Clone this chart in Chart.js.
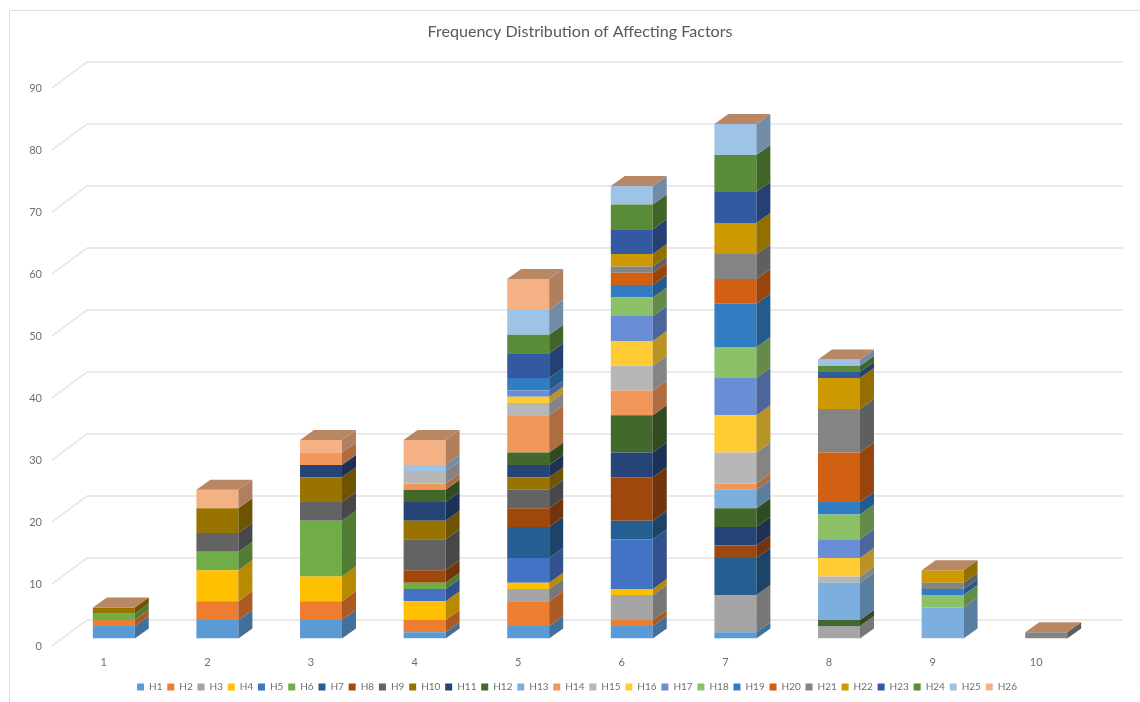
<!DOCTYPE html>
<html>
<head>
<meta charset="utf-8">
<title>Frequency Distribution of Affecting Factors</title>
<style>
html,body{margin:0;padding:0;background:#fff;}
canvas{display:block;}
</style>
<script src="https://cdn.jsdelivr.net/npm/chart.js@4/dist/chart.umd.min.js"></script>
</head>
<body>
<canvas id="chart" width="1140" height="702"></canvas>
<script>
const categories = ['1','2','3','4','5','6','7','8','9','10'];
const titleText = 'Frequency Distribution of Affecting Factors';

const H1  = [2,3,3,1,2,2,1,0,0,0];
const H2  = [1,3,3,2,4,1,0,0,0,0];
const H3  = [0,0,0,0,2,4,6,2,0,0];
const H4  = [0,5,4,3,1,1,0,0,0,0];
const H5  = [0,0,0,2,4,8,0,0,0,0];
const H6  = [1,3,9,1,0,0,0,0,0,0];
const H7  = [0,0,0,0,5,3,6,0,0,0];
const H8  = [0,0,0,2,3,7,2,0,0,0];
const H9  = [0,3,3,5,3,0,0,0,0,0];
const H10 = [1,4,4,3,2,0,0,0,0,0];
const H11 = [0,0,2,3,2,4,3,0,0,0];
const H12 = [0,0,0,2,2,6,3,1,0,0];
const H13 = [0,0,0,0,0,0,3,6,5,0];
const H14 = [0,0,2,1,6,4,1,0,0,0];
const H15 = [0,0,0,2,2,4,5,1,0,0];
const H16 = [0,0,0,0,1,4,6,3,0,0];
const H17 = [0,0,0,0,1,4,6,3,0,0];
const H18 = [0,0,0,0,0,3,5,4,2,0];
const H19 = [0,0,0,0,2,2,7,2,1,0];
const H20 = [0,0,0,0,0,2,4,8,0,0];
const H21 = [0,0,0,0,0,1,4,7,1,1];
const H22 = [0,0,0,0,0,2,5,5,2,0];
const H23 = [0,0,0,0,4,4,5,1,0,0];
const H24 = [0,0,0,0,3,4,6,1,0,0];
const H25 = [0,0,0,1,4,3,5,1,0,0];
const H26 = [0,3,2,4,5,0,0,0,0,0];

const seriesValues = [H1,H2,H3,H4,H5,H6,H7,H8,H9,H10,H11,H12,H13,H14,H15,H16,H17,H18,H19,H20,H21,H22,H23,H24,H25,H26];
const seriesColors = [
  '#5B9BD5','#ED7D31','#A5A5A5','#FFC000','#4472C4','#70AD47','#255E91','#9E480E','#636363','#997300',
  '#264478','#43682B','#7CAFDD','#F1975A','#B7B7B7','#FFCD33','#698ED6','#8CC168','#327DC2','#D26012',
  '#848484','#CC9A00','#335AA1','#5A8B39','#9DC3E6','#F4B183'
];

// Oblique projection of the column depth and of the back wall, in pixels.
const DEPTH_X = 14, DEPTH_Y = 10;
const WALL_RISE = 18.5, WALL_LEFT = 87, WALL_RIGHT = 1123;
const FLOOR_LEFT = 52, FLOOR_DROP = 7.5;
const GRID_COLOR = '#e3e3e3';

function shade(hex, factor) {
  const n = parseInt(hex.slice(1), 16);
  const c = [n >> 16, (n >> 8) & 255, n & 255].map(v => Math.round(v * factor));
  return `rgb(${c[0]},${c[1]},${c[2]})`;
}

function poly(ctx, pts, fill) {
  ctx.beginPath();
  pts.forEach((p, i) => i ? ctx.lineTo(p[0], p[1]) : ctx.moveTo(p[0], p[1]));
  ctx.closePath();
  ctx.fillStyle = fill;
  ctx.fill();
}

// Outer frame, back-wall gridlines and their run along the side wall.
const wallPlugin = {
  id: 'wall',
  afterLayout(chart) {
    // Nudge the legend row slightly left of the title's centre line.
    chart.legend.left -= 3;
    chart.legend.right -= 3;
  },
  beforeDatasetsDraw(chart) {
    const { ctx, scales: { y } } = chart;
    ctx.save();
    ctx.strokeStyle = '#dddddd';
    ctx.lineWidth = 1;
    ctx.beginPath();
    ctx.moveTo(9.5, 702);
    ctx.lineTo(9.5, 10.5);
    ctx.lineTo(1140, 10.5);
    ctx.stroke();

    ctx.strokeStyle = GRID_COLOR;
    ctx.lineWidth = 1.3;
    y.ticks.forEach(t => {
      const py = y.getPixelForValue(t.value);
      ctx.beginPath();
      ctx.moveTo(FLOOR_LEFT, py + FLOOR_DROP);
      ctx.lineTo(WALL_LEFT, py - WALL_RISE);
      ctx.lineTo(WALL_RIGHT, py - WALL_RISE);
      ctx.stroke();
    });
    ctx.restore();
  }
};

// Side faces of every stacked segment, plus the cap on each column.
const depthPlugin = {
  id: 'depth',
  afterDatasetsDraw(chart) {
    const { ctx } = chart;
    ctx.save();
    const count = chart.data.datasets.length;
    chart.data.datasets.forEach((ds, di) => {
      chart.getDatasetMeta(di).data.forEach((bar, i) => {
        if (!ds.data[i]) return;
        const { x, y, base, width } = bar.getProps(['x', 'y', 'base', 'width'], true);
        const r = x + width / 2;
        poly(ctx, [[r, y], [r + DEPTH_X, y - DEPTH_Y], [r + DEPTH_X, base - DEPTH_Y], [r, base]],
          shade(seriesColors[di], 0.72));
      });
    });
    // The last series has zero-height segments sitting on top of the stack where it is empty.
    chart.getDatasetMeta(count - 1).data.forEach(bar => {
      const { x, y, width } = bar.getProps(['x', 'y', 'width'], true);
      const l = x - width / 2, r = x + width / 2;
      poly(ctx, [[l, y], [r, y], [r + DEPTH_X, y - DEPTH_Y], [l + DEPTH_X, y - DEPTH_Y]],
        shade(seriesColors[count - 1], 0.76));
    });
    ctx.restore();
  }
};

const FONT = 'Lato, "Open Sans", sans-serif';

new Chart(document.getElementById('chart'), {
  type: 'bar',
  data: {
    labels: categories,
    datasets: seriesValues.map((values, i) => ({
      label: 'H' + (i + 1),
      data: values,
      backgroundColor: seriesColors[i],
      borderWidth: 0,
      categoryPercentage: 1,
      barPercentage: 0.405,
      stack: 'factors'
    }))
  },
  plugins: [wallPlugin, depthPlugin],
  options: {
    responsive: false,
    animation: false,
    events: [],
    layout: { padding: { left: 20, right: 0, top: 0, bottom: 0 } },
    plugins: {
      tooltip: { enabled: false },
      title: {
        display: true,
        text: titleText,
        color: '#595959',
        font: { family: FONT, size: 16.1, weight: 'normal', lineHeight: 1.2 },
        padding: { top: 22, bottom: 39.2 }
      },
      legend: {
        position: 'bottom',
        labels: {
          boxWidth: 7,
          boxHeight: 7,
          padding: 4.8,
          color: '#6e6e6e',
          font: { family: FONT, size: 10 }
        }
      }
    },
    scales: {
      x: {
        stacked: true,
        grid: { display: false, drawTicks: false },
        border: { display: false },
        ticks: { color: '#6e6e6e', font: { family: FONT, size: 11 }, padding: 17, labelOffset: -10, maxRotation: 0 },
        afterFit(scale) { scale.height = 38.7; }
      },
      y: {
        stacked: true,
        min: 0,
        max: 90,
        grid: { display: false, drawTicks: false },
        border: { display: false },
        ticks: { stepSize: 10, color: '#6e6e6e', font: { family: FONT, size: 11 }, padding: 20, labelOffset: 8 },
        afterFit(scale) { scale.width = 42; }
      },
      rightMargin: {
        position: 'right',
        display: true,
        grid: { display: false, drawTicks: false },
        border: { display: false },
        ticks: { display: false },
        afterFit(scale) { scale.width = 42; }
      }
    }
  }
});
</script>
</body>
</html>
